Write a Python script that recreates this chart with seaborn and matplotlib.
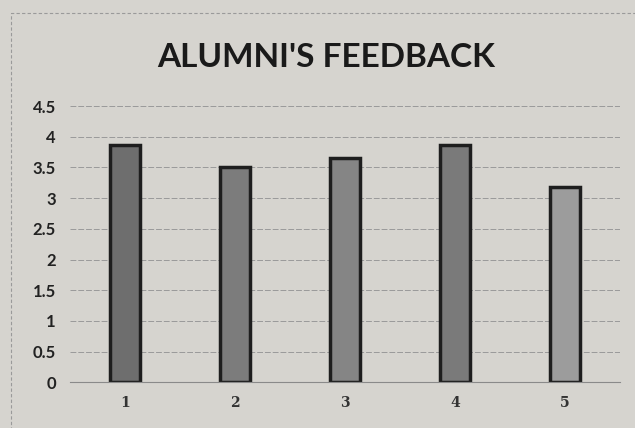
import matplotlib
matplotlib.use("Agg")
import matplotlib.pyplot as plt
import seaborn as sns
import pandas as pd
from matplotlib.patches import Rectangle

# Data
questions = ["1", "2", "3", "4", "5"]
scores = [3.87, 3.50, 3.65, 3.87, 3.18]
bar_colors = ["#6e6e6e", "#7c7c7c", "#858585", "#7a7a7a", "#9c9c9c"]
y_ticks = [0, 0.5, 1, 1.5, 2, 2.5, 3, 3.5, 4, 4.5]
y_labels = ["0", "0.5", "1", "1.5", "2", "2.5", "3", "3.5", "4", "4.5"]

df = pd.DataFrame({"question": questions, "score": scores})

sns.set_style("white")
plt.rcParams["font.family"] = ["Lato", "DejaVu Sans"]
paper = "#d6d4cf"
fig = plt.figure(figsize=(6.35, 4.28), dpi=100, facecolor=paper)
ax = fig.add_axes([0.110, 0.107, 0.866, 0.645], facecolor=paper)

sns.barplot(data=df, x="question", y="score", hue="question",
            palette=bar_colors, legend=False, width=0.27,
            edgecolor="#1e1e1e", linewidth=2.5, ax=ax)

ax.set_xlim(-0.5, 4.5)
ax.set_ylim(0, 4.5)
ax.set_yticks(y_ticks)
ax.set_yticklabels(y_labels, fontsize=12, fontweight="bold", color="#222222")
ax.set_xticks(range(len(questions)))
ax.set_xticklabels(questions, fontsize=10, fontweight="bold", color="#333333",
                   family="DejaVu Serif")
ax.tick_params(axis="both", length=0, pad=10)
ax.yaxis.grid(True, color="#9a9a9a", linewidth=0.7, linestyle=(0, (6, 2)))
ax.set_axisbelow(True)
for side in ["top", "right", "left"]:
    ax.spines[side].set_visible(False)
ax.spines["bottom"].set_color("#8a8a8a")
ax.spines["bottom"].set_linewidth(0.8)
ax.set_xlabel("")
ax.set_ylabel("")

fig.text(0.513, 0.865, "ALUMNI'S FEEDBACK", ha="center", va="center",
         fontsize=24, fontweight="bold", color="#1a1a1a")

# outer chart frame
fig.patches.append(Rectangle((0.018, -0.02), 0.99, 0.99, transform=fig.transFigure,
                             fill=False, edgecolor="#9a9a9a", linewidth=0.8,
                             linestyle=(0, (3, 2))))

fig.savefig("out.png", dpi=100, facecolor=paper)
